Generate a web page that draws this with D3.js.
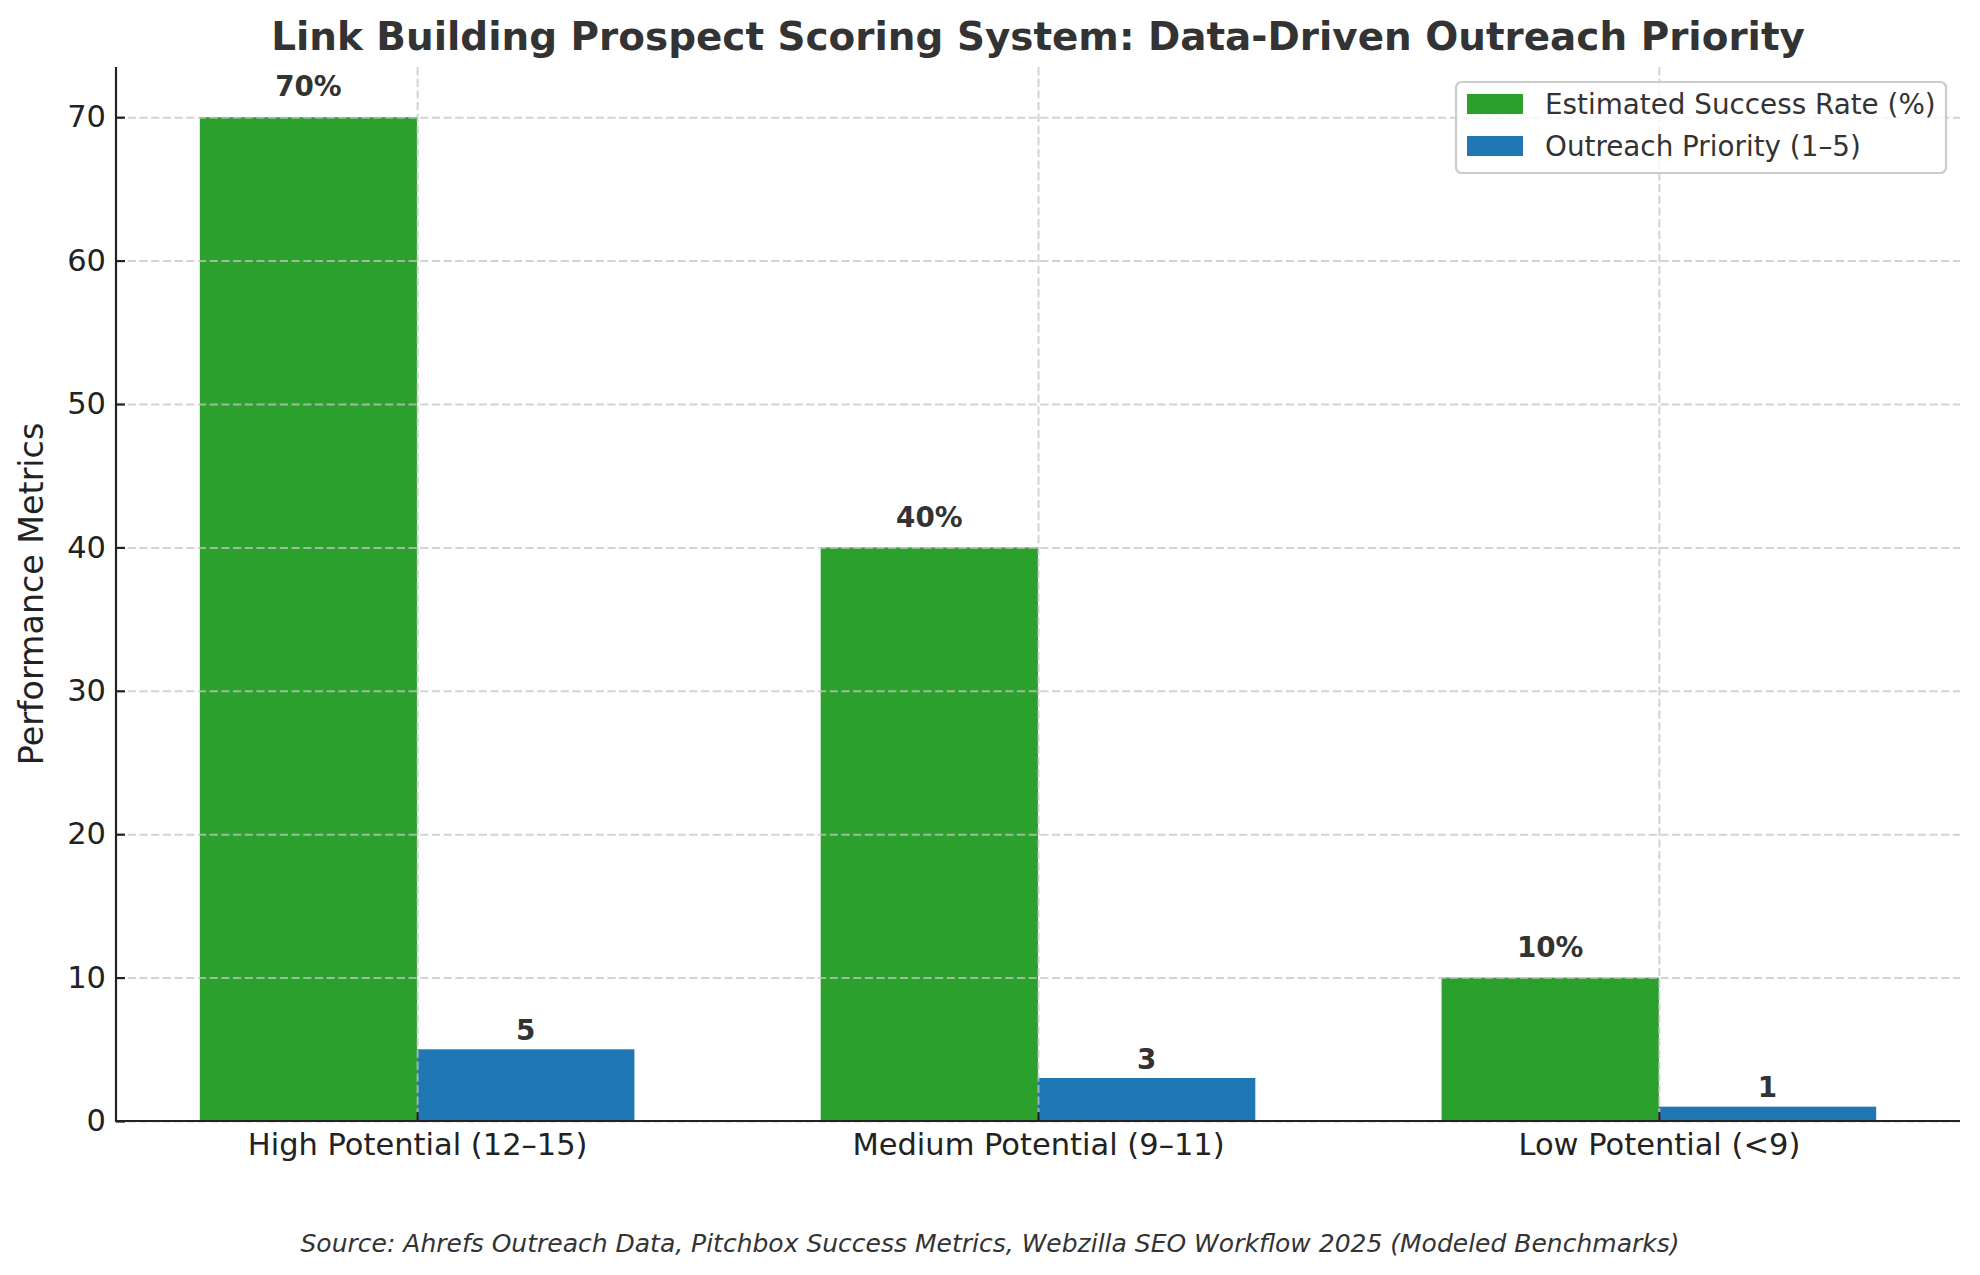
<!DOCTYPE html>
<html>
<head>
<meta charset="utf-8">
<script src="https://cdn.jsdelivr.net/npm/d3@7"></script>
<style>
  body { margin: 0; background: #fff; }
  svg { font-family: 'DejaVu Sans', sans-serif; }
</style>
</head>
<body>
<svg id="chart" width="1980" height="1275"></svg>
<script>
let categories = ['High Potential (12–15)', 'Medium Potential (9–11)', 'Low Potential (<9)']
let successRate = [70, 40, 10]
let priority = [5, 3, 1]
let yTicks = [0, 10, 20, 30, 40, 50, 60, 70]
let seriesNames = ['Estimated Success Rate (%)', 'Outreach Priority (1–5)']
let seriesColors = ['#2ca02c', '#1f77b4']

let svg = d3.select('#chart')

let plotLeft = 116, plotRight = 1960, plotTop = 67, plotBottom = 1121
let barW = 0.35

let x = d3.scaleLinear().domain([-0.485, 2.485]).range([plotLeft, plotRight])
let y = d3.scaleLinear().domain([0, 73.5]).range([plotBottom, plotTop])

// bars
let groups = svg.append('g')
categories.forEach((c, i) => {
  groups.append('rect')
    .attr('x', x(i - barW)).attr('y', y(successRate[i]))
    .attr('width', x(i) - x(i - barW)).attr('height', y(0) - y(successRate[i]))
    .attr('fill', seriesColors[0])
  groups.append('rect')
    .attr('x', x(i)).attr('y', y(priority[i]))
    .attr('width', x(i + barW) - x(i)).attr('height', y(0) - y(priority[i]))
    .attr('fill', seriesColors[1])
})

// grid (above bars, like the original)
let gridY = svg.append('g')
  .attr('transform', 'translate(' + plotLeft + ',0)')
  .call(d3.axisLeft(y).tickValues(yTicks).tickSize(-(plotRight - plotLeft)).tickFormat(''))
let gridX = svg.append('g')
  .attr('transform', 'translate(0,' + plotTop + ')')
  .call(d3.axisTop(x).tickValues([0, 1, 2]).tickSize(-(plotBottom - plotTop)).tickFormat(''))
;[gridY, gridX].forEach(g => {
  g.select('.domain').remove()
  g.selectAll('line')
    .attr('stroke', '#c4c4c4').attr('stroke-opacity', 0.75)
    .attr('stroke-width', 2).attr('stroke-dasharray', '8.2,3.5')
})

// axes
let yAxis = svg.append('g')
  .attr('transform', 'translate(' + plotLeft + ',0)')
  .call(d3.axisLeft(y).tickValues(yTicks).tickSizeInner(-9).tickSizeOuter(0).tickPadding(10))
let xAxis = svg.append('g')
  .attr('transform', 'translate(0,' + plotBottom + ')')
  .call(d3.axisBottom(x).tickValues([0, 1, 2]).tickFormat(i => categories[i])
    .tickSizeInner(-9).tickSizeOuter(0).tickPadding(10))
;[yAxis, xAxis].forEach(g => {
  g.select('.domain').attr('stroke', '#222').attr('stroke-width', 2.2)
  g.selectAll('.tick line').attr('stroke', '#222').attr('stroke-width', 2.2)
  g.selectAll('.tick text')
    .attr('fill', '#222').style('font-size', '30.5px')
    .style('font-family', "'DejaVu Sans', sans-serif")
})
xAxis.select('.domain').attr('d', 'M' + (plotLeft - 1) + ',0H' + plotRight)
yAxis.select('.domain').attr('d', 'M0,' + (plotBottom + 1) + 'V' + plotTop)
xAxis.selectAll('.tick text').attr('dy', null).attr('y', 34)

// value labels
categories.forEach((c, i) => {
  svg.append('text')
    .attr('x', x(i - barW / 2)).attr('y', y(successRate[i] + 1) - 6.5)
    .attr('text-anchor', 'middle').attr('font-weight', 'bold')
    .attr('font-size', 27.8).attr('fill', '#333')
    .text(successRate[i] + '%')
  svg.append('text')
    .attr('x', x(i + barW / 2)).attr('y', y(priority[i] + 0.2) - 6.5)
    .attr('text-anchor', 'middle').attr('font-weight', 'bold')
    .attr('font-size', 27.8).attr('fill', '#333')
    .text(priority[i])
})

// title
svg.append('text')
  .attr('x', (plotLeft + plotRight) / 2).attr('y', 50)
  .attr('text-anchor', 'middle').attr('font-weight', 'bold')
  .attr('font-size', 38.9).attr('fill', '#333')
  .text('Link Building Prospect Scoring System: Data-Driven Outreach Priority')

// y label
svg.append('text')
  .attr('transform', 'translate(43,' + ((plotTop + plotBottom) / 2) + ') rotate(-90)')
  .attr('text-anchor', 'middle')
  .attr('font-size', 33.3).attr('fill', '#222')
  .text('Performance Metrics')

// legend
let legend = svg.append('g')
legend.append('rect')
  .attr('x', 1456).attr('y', 82).attr('width', 490).attr('height', 91)
  .attr('rx', 5.5)
  .attr('fill', '#fff').attr('fill-opacity', 0.8)
  .attr('stroke', '#cccccc').attr('stroke-width', 2.2)
seriesNames.forEach((name, k) => {
  let cy = 104 + k * 42
  legend.append('rect')
    .attr('x', 1467).attr('y', cy - 10).attr('width', 56).attr('height', 20)
    .attr('fill', seriesColors[k])
  legend.append('text')
    .attr('x', 1545).attr('y', cy + 10)
    .attr('font-size', 27.8).attr('fill', '#333')
    .text(name)
})

// source note
svg.append('text')
  .attr('x', 990).attr('y', 1252)
  .attr('text-anchor', 'middle').attr('font-style', 'italic')
  .attr('font-size', 25).attr('fill', '#333')
  .text('Source: Ahrefs Outreach Data, Pitchbox Success Metrics, Webzilla SEO Workflow 2025 (Modeled Benchmarks)')
</script>
</body>
</html>
